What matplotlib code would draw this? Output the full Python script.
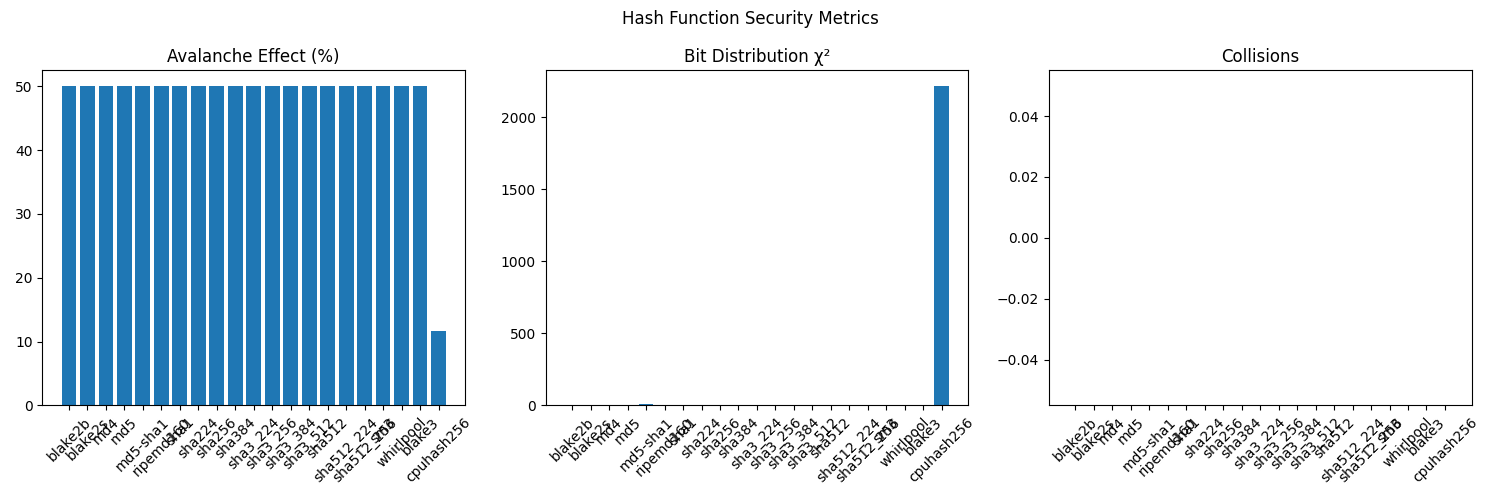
import numpy as np
import matplotlib.pyplot as plt

names = ['blake2b', 'blake2s', 'md4', 'md5', 'md5-sha1', 'ripemd160', 'sha1',
         'sha224', 'sha256', 'sha384', 'sha3_224', 'sha3_256', 'sha3_384',
         'sha3_512', 'sha512', 'sha512_224', 'sha512_256', 'sm3', 'whirlpool',
         'blake3', 'cpuhash256']
avalanche = [50.0, 50.0, 50.0, 50.0, 50.0, 50.0, 50.0, 50.0, 50.0, 50.0, 50.0,
             50.0, 50.0, 50.0, 50.0, 50.0, 50.0, 50.0, 50.0, 50.0, 11.7]
chi2 = [3, 4, 2, 3, 12, 3, 4, 2, 3, 4, 3, 2, 3, 4, 3, 2, 3, 4, 3, 2, 2215]
collisions = [0] * 21

fig, axes = plt.subplots(1, 3, figsize=(15, 5))
fig.suptitle('Hash Function Security Metrics')

for ax, vals, title in zip(axes, [avalanche, chi2, collisions],
                           ['Avalanche Effect (%)', 'Bit Distribution χ²', 'Collisions']):
    ax.bar(names, vals)
    ax.set_title(title)
    ax.tick_params(axis='x', rotation=45)

plt.tight_layout()
plt.savefig('out.png', dpi=100)
